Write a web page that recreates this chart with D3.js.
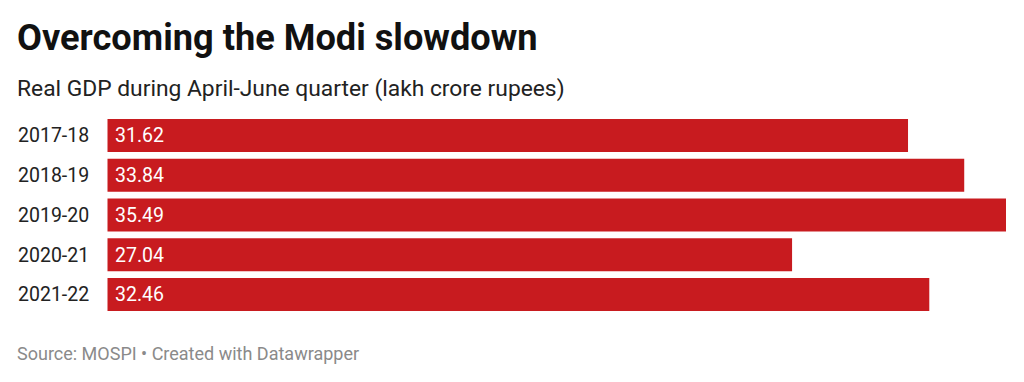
<!DOCTYPE html>
<html><head><meta charset="utf-8">
<script src="https://cdn.jsdelivr.net/npm/d3@7"></script>
<style>body{margin:0;background:#fff;}svg{display:block;font-family:Roboto,sans-serif;}</style>
</head><body>
<svg id="c" width="1024" height="382"></svg>
<script>
const categories = ["2017-18","2018-19","2019-20","2020-21","2021-22"];
const values = [31.62, 33.84, 35.49, 27.04, 32.46];
const titleText = "Overcoming the Modi slowdown";
const subtitleText = "Real GDP during April-June quarter (lakh crore rupees)";
const footerText = "Source: MOSPI \u2022 Created with Datawrapper";

const svg = d3.select("#c");
svg.append("rect").attr("width",1024).attr("height",382).attr("fill","#fff");

svg.append("text").attr("x",17).attr("y",50).attr("font-size",36.2).attr("font-weight",700)
  .attr("fill","#111").text(titleText);
svg.append("text").attr("x",17).attr("y",96).attr("font-size",22.8)
  .attr("fill","#222").text(subtitleText);

const x = d3.scaleLinear().domain([0, d3.max(values)]).range([107.5, 1006]);
const y = d3.scaleBand().domain(categories).range([119, 311]).paddingInner(0.17).paddingOuter(0);

const g = svg.append("g");
g.selectAll("rect.bar").data(categories).join("rect").attr("class","bar")
  .attr("x", x(0)).attr("y", d => y(d))
  .attr("width", (d,i) => x(values[i]) - x(0)).attr("height", y.bandwidth())
  .attr("fill","#c81b1f");

g.selectAll("text.cat").data(categories).join("text").attr("class","cat")
  .attr("x",18).attr("y", d => y(d) + y.bandwidth()/2).attr("dy","0.35em")
  .attr("font-size",19.5).attr("fill","#222").text(d => d);

g.selectAll("text.val").data(categories).join("text").attr("class","val")
  .attr("x", x(0) + 7.5).attr("y", d => y(d) + y.bandwidth()/2).attr("dy","0.35em")
  .attr("font-size",19.5).attr("fill","#fff").text((d,i) => values[i].toFixed(2));

svg.append("text").attr("x",17).attr("y",360).attr("font-size",18)
  .attr("fill","#8a8a8a").text(footerText);
</script>
</body></html>
